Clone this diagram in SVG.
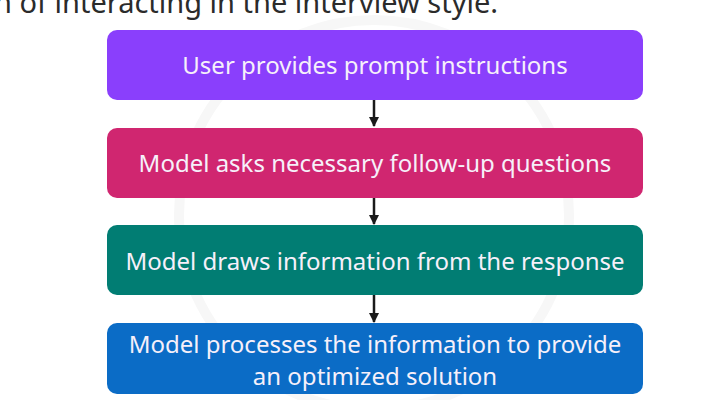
<svg xmlns="http://www.w3.org/2000/svg" width="720" height="400" viewBox="0 0 720 400">
<style>
.box{stroke:none}
.lbl{font-family:"Noto Sans","Open Sans",sans-serif;font-size:24px;fill:#f6f0fa;text-anchor:middle}
.conn{stroke:#1a1a1a;stroke-width:2.5;fill:none}
</style>
<defs>
<marker id="ah" markerWidth="10" markerHeight="10" refX="9" refY="5" orient="auto" markerUnits="userSpaceOnUse">
<path d="M0,0 L10,5 L0,10 Z" fill="#1a1a1a"/>
</marker>
</defs>
<rect width="720" height="400" fill="#ffffff"/>
<g fill="none" stroke="#f7f7f7" stroke-width="10">
<circle cx="374" cy="215" r="195"/>
</g>
<text x="-6" y="13" font-family="'Noto Sans','Open Sans',sans-serif" font-size="29" fill="#2b2b2b">n of interacting in the interview style.</text>
<g id="connectors">
<line class="conn" x1="374" y1="100" x2="374" y2="126" marker-end="url(#ah)"/>
<line class="conn" x1="374" y1="198" x2="374" y2="224" marker-end="url(#ah)"/>
<line class="conn" x1="374" y1="295" x2="374" y2="322" marker-end="url(#ah)"/>
</g>
<g id="n1">
<rect class="box" x="107" y="30" width="536" height="70" rx="10" fill="#8a3ffc"/>
<text class="lbl" x="375" y="74">User provides prompt instructions</text>
</g>
<g id="n2">
<rect class="box" x="107" y="128" width="536" height="70" rx="10" fill="#d02670"/>
<text class="lbl" x="375" y="172">Model asks necessary follow-up questions</text>
</g>
<g id="n3">
<rect class="box" x="107" y="225" width="536" height="70" rx="10" fill="#017d73"/>
<text class="lbl" x="375" y="270">Model draws information from the response</text>
</g>
<g id="n4">
<rect class="box" x="107" y="323" width="536" height="71" rx="10" fill="#0b6cc6"/>
<text class="lbl" x="375" y="353">Model processes the information to provide</text>
<text class="lbl" x="375" y="385">an optimized solution</text>
</g>
</svg>
